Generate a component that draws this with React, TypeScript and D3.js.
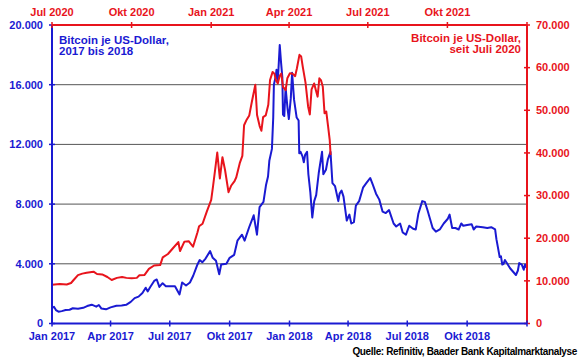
import React from "react";
import * as d3 from "d3";

// ---- Data ----
const blueDates = [
  "2017-01-01","2017-01-04","2017-01-07","2017-01-11","2017-01-16","2017-01-22","2017-01-28","2017-02-02","2017-02-10","2017-02-18",
  "2017-02-24","2017-03-03","2017-03-10","2017-03-14","2017-03-18","2017-03-25","2017-04-01","2017-04-10","2017-04-18","2017-04-25",
  "2017-05-02","2017-05-08","2017-05-14","2017-05-20","2017-05-25","2017-05-28","2017-06-01","2017-06-07","2017-06-11","2017-06-15",
  "2017-06-20","2017-06-25","2017-07-03","2017-07-09","2017-07-16","2017-07-20","2017-07-26","2017-08-01","2017-08-06","2017-08-12",
  "2017-08-16","2017-08-20","2017-08-25","2017-09-01","2017-09-05","2017-09-10","2017-09-15","2017-09-18","2017-09-26","2017-10-01",
  "2017-10-08","2017-10-13","2017-10-20","2017-10-24","2017-10-31","2017-11-07","2017-11-12","2017-11-16","2017-11-22","2017-11-26",
  "2017-11-29","2017-12-01","2017-12-05","2017-12-07","2017-12-08","2017-12-11","2017-12-12","2017-12-14","2017-12-17","2017-12-19",
  "2017-12-21","2017-12-22","2017-12-24","2017-12-26","2017-12-29","2017-12-31","2018-01-03","2018-01-05","2018-01-08","2018-01-10",
  "2018-01-12","2018-01-15","2018-01-16","2018-01-18","2018-01-21","2018-01-23","2018-01-25","2018-01-28","2018-01-30","2018-02-02",
  "2018-02-05","2018-02-08","2018-02-11","2018-02-15","2018-02-20","2018-02-22","2018-02-26","2018-03-01","2018-03-05","2018-03-08",
  "2018-03-12","2018-03-17","2018-03-19","2018-03-22","2018-03-25","2018-03-30","2018-04-03","2018-04-06","2018-04-10","2018-04-13",
  "2018-04-18","2018-04-24","2018-04-29","2018-05-05","2018-05-09","2018-05-14","2018-05-19","2018-05-24","2018-05-29","2018-06-03",
  "2018-06-10","2018-06-14","2018-06-20","2018-06-24","2018-06-29","2018-07-04","2018-07-10","2018-07-14","2018-07-18","2018-07-24",
  "2018-07-28","2018-08-01","2018-08-05","2018-08-09","2018-08-14","2018-08-20","2018-08-26","2018-09-01","2018-09-04","2018-09-08",
  "2018-09-13","2018-09-18","2018-09-22","2018-09-25","2018-10-01","2018-10-08","2018-10-11","2018-10-15","2018-10-25","2018-11-01",
  "2018-11-07","2018-11-13","2018-11-15","2018-11-19","2018-11-20","2018-11-22","2018-11-24","2018-11-26","2018-11-28","2018-12-01",
  "2018-12-06","2018-12-10","2018-12-15","2018-12-18","2018-12-20","2018-12-24","2018-12-27","2018-12-29","2018-12-31"
];
const blueValues = [
  1050,1120,900,790,830,900,920,1020,990,1050,
  1170,1260,1130,1240,1000,950,1080,1190,1200,1250,
  1450,1700,1800,2050,2400,2150,2450,2850,2950,2450,
  2700,2500,2500,2500,1950,2750,2550,2750,3200,3900,
  4250,4100,4350,4850,4400,4200,3300,3950,4000,4400,
  4600,5550,5950,5550,6450,7250,5950,7800,8150,9300,
  9850,10900,11700,13800,16000,16600,17000,16200,18660,17500,
  16500,14000,13900,15800,14400,13700,15100,16800,15000,14400,
  13800,13600,11400,11500,11200,10800,11300,11500,10000,8800,
  7100,8200,8600,10100,11500,10000,10300,11000,11500,9400,
  9200,8200,8700,8900,8500,6900,7300,6700,6800,7900,
  8200,9100,9400,9750,9300,8700,8300,7500,7400,7600,
  6700,6500,6700,6100,5950,6550,6350,6300,7350,8200,
  8150,7600,7000,6400,6150,6300,6700,7000,7300,6400,
  6400,6300,6700,6550,6600,6650,6300,6500,6450,6400,
  6450,6300,5650,4700,4450,4500,3950,4000,4250,4050,
  3700,3500,3250,3550,4050,3950,3600,3950,3750
];

const redDates = [
  "2020-07-01","2020-07-10","2020-07-18","2020-07-23","2020-07-26","2020-07-31","2020-08-05","2020-08-10","2020-08-18","2020-08-22",
  "2020-08-28","2020-09-03","2020-09-08","2020-09-14","2020-09-20","2020-09-25","2020-10-01","2020-10-07","2020-10-10","2020-10-16",
  "2020-10-21","2020-10-27","2020-11-03","2020-11-06","2020-11-12","2020-11-18","2020-11-24","2020-11-26","2020-12-01","2020-12-06",
  "2020-12-11","2020-12-16","2020-12-18","2020-12-22","2020-12-27","2021-01-01","2021-01-03","2021-01-06","2021-01-08","2021-01-11",
  "2021-01-14","2021-01-17","2021-01-21","2021-01-24","2021-01-28","2021-01-30","2021-02-03","2021-02-06","2021-02-08","2021-02-11",
  "2021-02-14","2021-02-17","2021-02-21","2021-02-23","2021-02-26","2021-02-28","2021-03-02","2021-03-05","2021-03-08","2021-03-10",
  "2021-03-13","2021-03-15","2021-03-17","2021-03-19","2021-03-21","2021-03-23","2021-03-25","2021-03-28","2021-03-30","2021-04-02",
  "2021-04-05","2021-04-08","2021-04-10","2021-04-13","2021-04-15","2021-04-17","2021-04-20","2021-04-23","2021-04-25","2021-04-27",
  "2021-04-30","2021-05-02","2021-05-04","2021-05-06","2021-05-08","2021-05-10","2021-05-12","2021-05-14","2021-05-16","2021-05-18",
  "2021-05-19"
];
const redValues = [
  9100,9250,9150,9500,10200,11350,11700,11900,12150,11600,
  11500,10900,10200,10700,10900,10700,10600,10700,11300,11400,
  12800,13600,13700,15500,16300,17700,19100,17000,19200,19300,
  18000,21300,22800,23400,26300,29000,32000,36800,40100,34000,
  39000,36000,30800,32300,33400,34300,37600,39300,46500,47800,
  48800,52000,56000,48900,46300,45200,48400,48800,51300,57100,
  59000,58600,57000,56300,58000,58600,55500,54700,57500,58700,
  58600,58000,59800,63000,62600,60000,56500,50900,49000,54900,
  56300,54700,53200,57500,57000,55500,49300,49700,46400,43000,
  39500
];

const leftTicks = [0, 4000, 8000, 12000, 16000, 20000];
const rightTicks = [0, 10000, 20000, 30000, 40000, 50000, 60000, 70000];
const gridTicks = [4000, 8000, 12000, 16000];
const bottomTickDates = ["2017-01-01","2017-04-01","2017-07-01","2017-10-01","2018-01-01","2018-04-01","2018-07-01","2018-10-01","2019-01-01"];
const bottomTickLabels = ["Jan 2017","Apr 2017","Jul 2017","Okt 2017","Jan 2018","Apr 2018","Jul 2018","Okt 2018",""];
const topTickDates = ["2020-07-01","2020-10-01","2021-01-01","2021-04-01","2021-07-01","2021-10-01","2022-01-01"];
const topTickLabels = ["Jul 2020","Okt 2020","Jan 2021","Apr 2021","Jul 2021","Okt 2021",""];

const BLUE = "#1a1ad2";
const RED = "#e8141c";
const FONT = "'Liberation Sans', Arial, sans-serif";

const parse = d3.timeParse("%Y-%m-%d");
const fmt = d3.formatLocale({ decimal: ",", thousands: ".", grouping: [3], currency: ["", "€"] }).format(",");

export default function App() {
  const W = 580, H = 359;
  const L = 52, R = 527, T = 25, B = 323.5;

  const xBottom = d3.scaleTime().domain([parse("2017-01-01")!, parse("2019-01-01")!]).range([L, R]);
  const xTop = d3.scaleTime().domain([parse("2020-07-01")!, parse("2022-01-01")!]).range([L, R]);
  const yLeft = d3.scaleLinear().domain([0, 20000]).range([B, T]);
  const yRight = d3.scaleLinear().domain([0, 70000]).range([B, T]);

  const blue = blueDates.map((d, i) => ({ d: parse(d)!, v: blueValues[i] }));
  const red = redDates.map((d, i) => ({ d: parse(d)!, v: redValues[i] }));

  const blueLine = d3.line<{ d: Date; v: number }>().x(p => xBottom(p.d)).y(p => yLeft(p.v))(blue)!;
  const redLine = d3.line<{ d: Date; v: number }>().x(p => xTop(p.d)).y(p => yRight(p.v))(red)!;

  const tk = 3;
  return (
    <svg width={W} height={H} style={{ position: "absolute", left: 0, top: 0, background: "#fff" }} fontFamily={FONT} fontWeight="bold">
      <rect x={0} y={0} width={W} height={H} fill="#fff" />
      {gridTicks.map(t => (
        <line key={t} x1={L} x2={R} y1={yLeft(t)} y2={yLeft(t)} stroke="#555" strokeWidth={1} />
      ))}
      <path d={blueLine} fill="none" stroke={BLUE} strokeWidth={2} strokeLinejoin="round" />
      <path d={redLine} fill="none" stroke={RED} strokeWidth={2} strokeLinejoin="round" />

      {/* left axis */}
      <line x1={L} x2={L} y1={T} y2={B} stroke={BLUE} strokeWidth={2} />
      {leftTicks.map(t => (
        <g key={t}>
          <line x1={L - tk} x2={L + tk} y1={yLeft(t)} y2={yLeft(t)} stroke={BLUE} strokeWidth={1.5} />
          <text x={L - 9} y={yLeft(t)} dy="0.35em" textAnchor="end" fontSize={11} fill={BLUE}>{fmt(t)}</text>
        </g>
      ))}
      {/* right axis */}
      <line x1={R} x2={R} y1={T} y2={B} stroke={RED} strokeWidth={2} />
      {rightTicks.map(t => (
        <g key={t}>
          <line x1={R - tk} x2={R + tk} y1={yRight(t)} y2={yRight(t)} stroke={RED} strokeWidth={1.5} />
          <text x={R + 9} y={yRight(t)} dy="0.35em" textAnchor="start" fontSize={11} fill={RED}>{fmt(t)}</text>
        </g>
      ))}
      {/* top axis */}
      <line x1={L} x2={R} y1={T} y2={T} stroke={RED} strokeWidth={2} />
      {topTickDates.map((d, i) => {
        const x = xTop(parse(d)!);
        return (
          <g key={d}>
            <line x1={x} x2={x} y1={T - tk} y2={T + tk} stroke={RED} strokeWidth={1.5} />
            <text x={x} y={16} textAnchor="middle" fontSize={11} fill={RED}>{topTickLabels[i]}</text>
          </g>
        );
      })}
      {/* bottom axis */}
      <line x1={L} x2={R} y1={B} y2={B} stroke={BLUE} strokeWidth={2} />
      {bottomTickDates.map((d, i) => {
        const x = xBottom(parse(d)!);
        return (
          <g key={d}>
            <line x1={x} x2={x} y1={B - tk} y2={B + tk} stroke={BLUE} strokeWidth={1.5} />
            <text x={x} y={340} textAnchor="middle" fontSize={11} fill={BLUE}>{bottomTickLabels[i]}</text>
          </g>
        );
      })}

      {/* legends */}
      <text x={59} y={44} fontSize={11.5} fill={BLUE}>Bitcoin je US-Dollar,</text>
      <text x={59} y={55} fontSize={11.5} fill={BLUE}>2017 bis 2018</text>
      <text x={521} y={42} fontSize={11.5} fill={RED} textAnchor="end">Bitcoin je US-Dollar,</text>
      <text x={521} y={53} fontSize={11.5} fill={RED} textAnchor="end">seit Juli 2020</text>
      <text x={577} y={355} fontSize={10} letterSpacing={-0.35} fill="#000" textAnchor="end">Quelle: Refinitiv, Baader Bank Kapitalmarktanalyse</text>
    </svg>
  );
}
